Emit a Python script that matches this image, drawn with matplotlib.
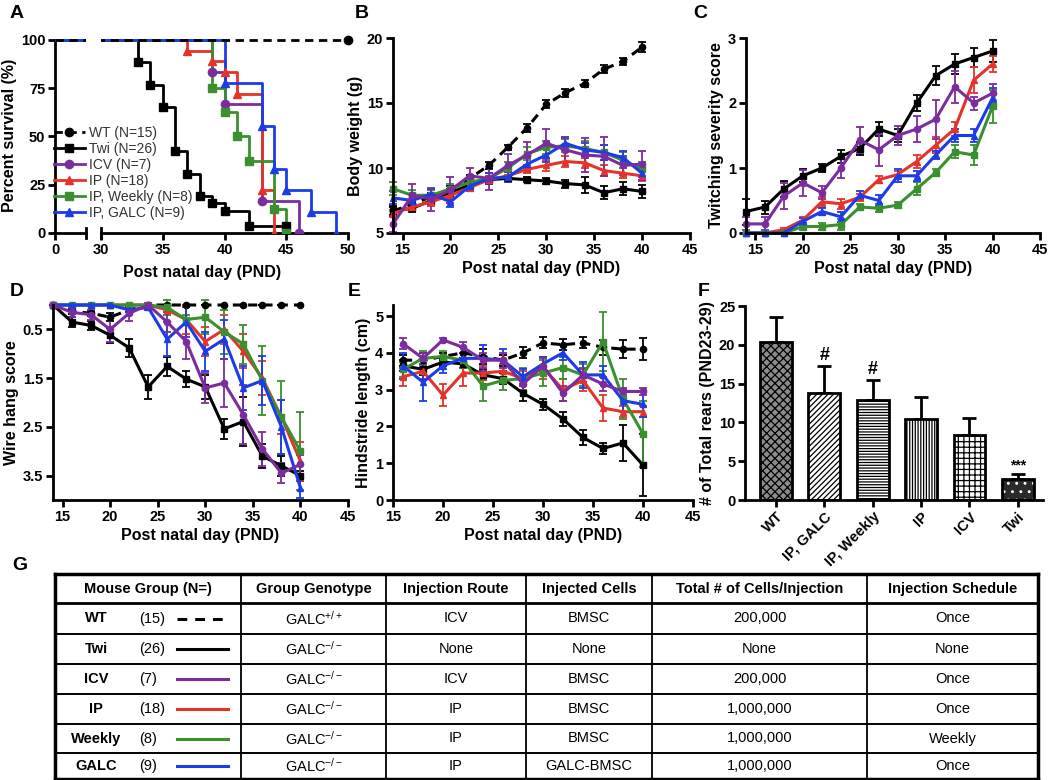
import matplotlib
matplotlib.use("Agg")
import matplotlib.pyplot as plt
from matplotlib.lines import Line2D

plt.rcParams['font.family'] = ['Liberation Sans', 'DejaVu Sans']
plt.rcParams['mathtext.fontset'] = 'custom'
plt.rcParams['mathtext.rm'] = 'Liberation Sans'
plt.rcParams['mathtext.it'] = 'Liberation Sans:italic'
plt.rcParams['mathtext.bf'] = 'Liberation Sans:bold'
plt.rcParams['hatch.linewidth'] = 0.9

# ---------------- data ----------------
groups = ['WT', 'Twi', 'ICV', 'IP', 'Weekly', 'GALC']
legend_labels = ['WT (N=15)', 'Twi (N=26)', 'ICV (N=7)', 'IP (N=18)',
                 'IP, Weekly (N=8)', 'IP, GALC (N=9)']

# A: Kaplan-Meier survival (day, percent)
A_WT_t = [0, 50]
A_WT_s = [100, 100]
A_TWI_t = [0, 33, 34, 35, 36, 37, 38, 39, 40, 42, 45]
A_TWI_s = [100, 88.5, 76.9, 65.4, 42.3, 30.8, 19.2, 15.4, 11.5, 3.8, 3.8]
A_ICV_t = [0, 39, 40, 43, 46]
A_ICV_s = [100, 83.3, 66.7, 16.7, 0]
A_IP_t = [0, 37, 39, 40, 41, 43, 44]
A_IP_s = [100, 94.4, 88.9, 83.3, 72.2, 22.2, 0]
A_WK_t = [0, 39, 40, 41, 42, 44, 45]
A_WK_s = [100, 75, 62.5, 50, 37.5, 12.5, 0]
A_GALC_t = [0, 40, 43, 44, 45, 47, 49]
A_GALC_s = [100, 77.8, 55.6, 33.3, 22.2, 11.1, 0]

# B: body weight (g)
days_b = [14, 16, 18, 20, 22, 24, 26, 28, 30, 32, 34, 36, 38, 40]
B_WT = [6.7, 7.2, 7.8, 8.3, 9.2, 10.2, 11.6, 13.1, 14.9, 15.8, 16.5, 17.6, 18.2, 19.3]
B_WT_err = [0.3, 0.3, 0.3, 0.3, 0.3, 0.3, 0.2, 0.3, 0.3, 0.3, 0.3, 0.3, 0.3, 0.4]
B_TWI = [6.7, 6.9, 7.5, 8.1, 8.7, 9.1, 9.2, 9.1, 9.0, 8.8, 8.7, 8.1, 8.4, 8.2]
B_TWI_err = [0.4, 0.3, 0.3, 0.3, 0.3, 0.2, 0.2, 0.2, 0.2, 0.3, 0.6, 0.5, 0.5, 0.5]
B_ICV = [5.7, 7.9, 7.6, 8.3, 9.4, 9.2, 10.2, 11.0, 11.9, 11.4, 11.0, 10.9, 10.2, 10.3]
B_ICV_err = [0.6, 0.9, 0.9, 1.0, 0.6, 0.9, 0.9, 1.0, 1.1, 0.9, 1.3, 1.5, 0.7, 1.0]
B_IP = [6.5, 7.0, 7.4, 7.9, 8.5, 9.1, 9.4, 9.9, 10.2, 10.5, 10.4, 9.8, 9.6, 9.4]
B_IP_err = [0.3, 0.3, 0.3, 0.3, 0.3, 0.3, 0.3, 0.3, 0.4, 0.4, 0.4, 0.4, 0.4, 0.4]
B_WK = [8.4, 7.9, 7.9, 8.4, 8.9, 9.2, 10.0, 11.1, 11.6, 11.7, 11.5, 11.2, 10.6, 9.9]
B_WK_err = [0.5, 0.4, 0.4, 0.4, 0.4, 0.4, 0.5, 0.5, 0.5, 0.5, 0.6, 0.6, 0.6, 0.6]
B_GALC = [7.7, 7.5, 8.0, 7.4, 8.6, 9.2, 9.3, 10.3, 11.0, 11.9, 11.4, 11.2, 10.8, 9.6]
B_GALC_err = [0.5, 0.4, 0.4, 0.4, 0.4, 0.4, 0.4, 0.5, 0.5, 0.5, 0.5, 0.6, 0.5, 0.5]

# C: twitching severity score
days_c = [14, 16, 18, 20, 22, 24, 26, 28, 30, 32, 34, 36, 38, 40]
C_TWI = [0.33, 0.4, 0.68, 0.88, 1.0, 1.18, 1.3, 1.6, 1.5, 2.0, 2.42, 2.6, 2.7, 2.8]
C_TWI_err = [0.2, 0.1, 0.12, 0.1, 0.06, 0.1, 0.1, 0.1, 0.1, 0.13, 0.15, 0.15, 0.15, 0.17]
C_ICV = [0.14, 0.14, 0.57, 0.77, 0.62, 1.0, 1.43, 1.28, 1.5, 1.6, 1.75, 2.25, 2.0, 2.15]
C_ICV_err = [0.1, 0.1, 0.2, 0.2, 0.1, 0.15, 0.2, 0.25, 0.15, 0.2, 0.3, 0.25, 0.1, 0.15]
C_IP = [0.0, 0.0, 0.05, 0.2, 0.48, 0.45, 0.55, 0.82, 0.9, 1.1, 1.35, 1.6, 2.35, 2.6]
C_IP_err = [0.0, 0.0, 0.03, 0.05, 0.08, 0.08, 0.05, 0.05, 0.05, 0.1, 0.12, 0.1, 0.2, 0.12]
C_WK = [0.0, 0.0, 0.0, 0.1, 0.1, 0.13, 0.4, 0.38, 0.43, 0.68, 0.93, 1.25, 1.2, 1.95]
C_WK_err = [0.0, 0.0, 0.0, 0.05, 0.06, 0.08, 0.05, 0.06, 0.05, 0.1, 0.06, 0.1, 0.15, 0.25]
C_GALC = [0.0, 0.0, 0.0, 0.18, 0.33, 0.25, 0.58, 0.5, 0.88, 0.88, 1.2, 1.5, 1.5, 2.08]
C_GALC_err = [0.0, 0.0, 0.0, 0.05, 0.05, 0.08, 0.06, 0.08, 0.1, 0.08, 0.06, 0.1, 0.1, 0.15]

# D: wire hang score (inverted axis)
days_d = [14, 16, 18, 20, 22, 24, 26, 28, 30, 32, 34, 36, 38, 40]
D_WT = [0, 0.13, 0.17, 0.25, 0.1, 0, 0, 0, 0, 0, 0, 0, 0, 0]
D_WT_err = [0, 0.05, 0.05, 0.08, 0.05, 0, 0, 0, 0, 0, 0, 0, 0, 0]
D_TWI = [0.0, 0.35, 0.42, 0.62, 0.88, 1.68, 1.26, 1.52, 1.68, 2.54, 2.39, 3.1, 3.3, 3.5]
D_TWI_err = [0, 0.1, 0.1, 0.15, 0.18, 0.25, 0.2, 0.17, 0.25, 0.2, 0.5, 0.25, 0.2, 0.1]
D_ICV = [0.0, 0.15, 0.2, 0.5, 0.17, 0.0, 0.35, 0.75, 1.7, 1.6, 2.25, 2.95, 3.45, 3.27]
D_ICV_err = [0, 0.1, 0.1, 0.25, 0.15, 0.05, 0.2, 0.35, 0.3, 0.5, 0.6, 0.35, 0.2, 0.2]
D_IP = [0, 0, 0, 0, 0, 0, 0.1, 0.3, 0.75, 0.5, 0.95, 1.5, 2.3, 3.2]
D_IP_err = [0, 0, 0, 0, 0, 0, 0.1, 0.3, 0.3, 0.3, 0.35, 0.35, 0.35, 0.4]
D_WK = [0, 0, 0, 0, 0, 0, 0.05, 0.3, 0.25, 0.55, 0.8, 1.55, 2.3, 3.0]
D_WK_err = [0, 0, 0, 0, 0, 0, 0.15, 0.1, 0.35, 0.45, 0.4, 0.7, 0.75, 0.8]
D_GALC = [0, 0, 0, 0, 0.1, 0.05, 0.7, 0.35, 0.95, 0.7, 1.7, 1.55, 2.5, 3.75]
D_GALC_err = [0, 0, 0, 0, 0.05, 0.05, 0.35, 0.3, 0.4, 0.4, 0.45, 0.5, 0.55, 0.2]

# E: hindstride length (cm)
days_e = [16, 18, 20, 22, 24, 26, 28, 30, 32, 34, 36, 38, 40]
E_WT = [3.8, 3.8, 3.9, 4.0, 3.9, 3.8, 4.0, 4.27, 4.22, 4.27, 4.15, 4.1, 4.1]
E_WT_err = [0.15, 0.2, 0.1, 0.15, 0.2, 0.15, 0.15, 0.15, 0.15, 0.15, 0.2, 0.25, 0.3]
E_TWI = [3.65, 3.55, 3.75, 3.7, 3.4, 3.3, 2.9, 2.6, 2.2, 1.7, 1.4, 1.55, 0.95]
E_TWI_err = [0.15, 0.15, 0.1, 0.1, 0.15, 0.15, 0.2, 0.15, 0.2, 0.2, 0.15, 0.5, 0.85]
E_ICV = [4.25, 3.85, 4.35, 4.15, 3.8, 3.8, 3.15, 3.65, 2.9, 3.4, 3.15, 2.95, 2.95]
E_ICV_err = [0.15, 0.15, 0.05, 0.15, 0.2, 0.2, 0.2, 0.2, 0.2, 0.2, 0.2, 0.1, 0.1]
E_IP = [3.35, 3.5, 2.85, 3.45, 3.45, 3.5, 3.3, 3.6, 3.0, 3.25, 2.5, 2.4, 2.4]
E_IP_err = [0.25, 0.2, 0.3, 0.35, 0.2, 0.2, 0.2, 0.3, 0.3, 0.3, 0.35, 0.15, 0.15]
E_WK = [3.55, 3.85, 3.9, 3.8, 3.1, 3.25, 3.3, 3.45, 3.6, 3.4, 4.3, 2.75, 1.8]
E_WK_err = [0.2, 0.2, 0.15, 0.2, 0.4, 0.25, 0.3, 0.35, 0.3, 0.3, 0.8, 0.55, 0.9]
E_GALC = [3.65, 3.2, 3.65, 3.85, 3.85, 3.8, 3.35, 3.7, 4.0, 3.4, 3.4, 2.7, 2.6]
E_GALC_err = [0.35, 0.5, 0.2, 0.15, 0.35, 0.3, 0.2, 0.2, 0.2, 0.35, 0.25, 0.3, 0.35]

# F: total rears
F_groups = ['WT', 'IP, GALC', 'IP, Weekly', 'IP', 'ICV', 'Twi']
F_mean = [20.4, 13.8, 12.9, 10.4, 8.4, 2.7]
F_err = [3.2, 3.5, 2.6, 2.9, 2.2, 0.6]
F_sig = ['', '#', '#', '', '', '***']

# G: table
tbl_head = ['Mouse Group (N=)', 'Group Genotype', 'Injection Route',
            'Injected Cells', 'Total # of Cells/Injection', 'Injection Schedule']
tbl_group = ['WT', 'Twi', 'ICV', 'IP', 'Weekly', 'GALC']
tbl_n = ['(15)', '(26)', '(7)', '(18)', '(8)', '(9)']
tbl_geno = [r'GALC$^{+/+}$', r'GALC$^{-/-}$', r'GALC$^{-/-}$', r'GALC$^{-/-}$',
            r'GALC$^{-/-}$', r'GALC$^{-/-}$']
tbl_route = ['ICV', 'None', 'ICV', 'IP', 'IP', 'IP']
tbl_cells = ['BMSC', 'None', 'BMSC', 'BMSC', 'BMSC', 'GALC-BMSC']
tbl_total = ['200,000', 'None', '200,000', '1,000,000', '1,000,000', '1,000,000']
tbl_sched = ['Once', 'None', 'Once', 'Once', 'Weekly', 'Once']

# ---------------- styling ----------------
COL = {'WT': 'black', 'Twi': 'black', 'ICV': '#7B2C9E', 'IP': '#E5332A',
       'Weekly': '#3A8F2E', 'GALC': '#1C3CE8'}
MRK = {'WT': 'o', 'Twi': 's', 'ICV': 'o', 'IP': '^', 'Weekly': 's', 'GALC': '^'}
DASH = (0, (3, 2))

W, H = 1050, 780
fig = plt.figure(figsize=(W / 100, H / 100), dpi=100)


def box(l, t, r, b):
    return [l / W, 1 - b / H, (r - l) / W, (b - t) / H]


def style(ax, xlabel=None, ylabel=None):
    for s in ['top', 'right']:
        ax.spines[s].set_visible(False)
    for s in ['left', 'bottom']:
        ax.spines[s].set_linewidth(2)
    ax.tick_params(width=2, length=5, labelsize=10.5, direction='out', pad=2)
    plt.setp(ax.get_xticklabels() + ax.get_yticklabels(), fontweight='bold')
    if xlabel:
        ax.set_xlabel(xlabel, fontsize=11.5, fontweight='bold', labelpad=3)
    if ylabel:
        ax.set_ylabel(ylabel, fontsize=11.5, fontweight='bold', labelpad=3)


def series(ax, x, y, e, key, ms=4.5):
    ls = DASH if key == 'WT' else '-'
    cont = ax.errorbar(x, y, yerr=e, color=COL[key], marker=MRK[key], ms=ms,
                       lw=2.2, ls=ls, capsize=3, elinewidth=1.3, capthick=1.3)
    for art in cont.get_children():
        art.set_clip_on(False)


def letter(x, y, s):
    fig.text(x / W, 1 - y / H, s, fontsize=14, fontweight='bold', va='center', ha='left')


# ---------------- A ----------------
axA1 = fig.add_axes(box(55, 38, 86, 233))
axA2 = fig.add_axes(box(101, 38, 348, 233))
A_sets = [('Twi', A_TWI_t, A_TWI_s), ('ICV', A_ICV_t, A_ICV_s),
          ('IP', A_IP_t, A_IP_s), ('Weekly', A_WK_t, A_WK_s),
          ('GALC', A_GALC_t, A_GALC_s), ('WT', A_WT_t, A_WT_s)]
for ax in (axA1, axA2):
    for key, t, s in A_sets:
        ls = DASH if key == 'WT' else '-'
        ax.step(t, s, where='post', color=COL[key], lw=2, ls=ls, zorder=3)
        if key == 'WT':
            if ax is axA2:
                ax.plot(t[-1:], s[-1:], marker='o', color='black', ms=6, ls='none',
                        clip_on=False, zorder=4)
        else:
            ax.plot(t[1:], s[1:], marker=MRK[key], color=COL[key], ms=6, ls='none',
                    zorder=4)
    ax.set_ylim(0, 101)
axA1.set_xlim(0, 4.3)
axA1.set_xticks([0])
axA1.set_yticks([0, 25, 50, 75, 100])
axA1.spines['left'].set_bounds(0, 100)
style(axA1, ylabel='Percent survival (%)')
axA2.set_xlim(30, 50)
axA2.set_xticks([30, 35, 40, 45, 50])
axA2.set_yticks([])
style(axA2)
axA2.spines['left'].set_visible(False)
axA1.plot([1, 1], [-0.028, 0.028], transform=axA1.transAxes, color='black', lw=2, clip_on=False)
axA2.plot([0, 0], [-0.028, 0.028], transform=axA2.transAxes, color='black', lw=2, clip_on=False)
fig.text(202 / W, 1 - 272 / H, 'Post natal day (PND)', fontsize=11.5, fontweight='bold',
         ha='center', va='center')
handles = [Line2D([], [], color=COL[k], marker=MRK[k], ms=6, lw=2,
                  ls=DASH if k == 'WT' else '-') for k in groups]
fig.legend(handles, legend_labels, loc='upper left', bbox_to_anchor=(54 / W, 1 - 126 / H),
           frameon=False, fontsize=10, borderpad=0, borderaxespad=0, labelspacing=0.14,
           handlelength=2.2, handletextpad=0.3, labelcolor='#333333')
letter(10, 14, 'A')

# ---------------- B ----------------
axB = fig.add_axes(box(393, 38, 690, 233))
B_sets = [('WT', B_WT, B_WT_err), ('Twi', B_TWI, B_TWI_err), ('IP', B_IP, B_IP_err),
          ('Weekly', B_WK, B_WK_err), ('GALC', B_GALC, B_GALC_err), ('ICV', B_ICV, B_ICV_err)]
for key, y, e in B_sets:
    series(axB, days_b, y, e, key)
axB.set_xlim(14, 45)
axB.set_ylim(5, 20)
axB.set_xticks([15, 20, 25, 30, 35, 40, 45])
axB.set_yticks([5, 10, 15, 20])
style(axB, 'Post natal day (PND)', 'Body weight (g)')
letter(355, 14, 'B')

# ---------------- C ----------------
axC = fig.add_axes(box(746, 38, 1040, 233))
C_sets = [('Twi', C_TWI, C_TWI_err), ('IP', C_IP, C_IP_err), ('Weekly', C_WK, C_WK_err),
          ('GALC', C_GALC, C_GALC_err), ('ICV', C_ICV, C_ICV_err)]
for key, y, e in C_sets:
    series(axC, days_c, y, e, key)
axC.set_xlim(14, 45)
axC.set_ylim(0, 3)
axC.set_xticks([15, 20, 25, 30, 35, 40, 45])
axC.set_yticks([0, 1, 2, 3])
style(axC, 'Post natal day (PND)', 'Twitching severity score')
letter(693, 14, 'C')

# ---------------- D ----------------
axD = fig.add_axes(box(53, 305, 348, 500))
D_sets = [('WT', D_WT, D_WT_err), ('Twi', D_TWI, D_TWI_err), ('IP', D_IP, D_IP_err),
          ('Weekly', D_WK, D_WK_err), ('GALC', D_GALC, D_GALC_err), ('ICV', D_ICV, D_ICV_err)]
for key, y, e in D_sets:
    series(axD, days_d, y, e, key)
axD.set_xlim(14, 45)
axD.set_ylim(4, 0)
axD.set_xticks([15, 20, 25, 30, 35, 40, 45])
axD.set_yticks([0.5, 1.5, 2.5, 3.5])
style(axD, 'Post natal day (PND)', 'Wire hang score')
letter(10, 292, 'D')

# ---------------- E ----------------
axE = fig.add_axes(box(393, 305, 693, 500))
E_sets = [('WT', E_WT, E_WT_err), ('Twi', E_TWI, E_TWI_err), ('IP', E_IP, E_IP_err),
          ('Weekly', E_WK, E_WK_err), ('GALC', E_GALC, E_GALC_err), ('ICV', E_ICV, E_ICV_err)]
for key, y, e in E_sets:
    series(axE, days_e, y, e, key)
axE.set_xlim(15, 45)
axE.set_ylim(0, 5.3)
axE.set_xticks([15, 20, 25, 30, 35, 40, 45])
axE.set_yticks([0, 1, 2, 3, 4, 5])
style(axE, 'Post natal day (PND)', 'Hindstride length (cm)')
letter(348, 292, 'E')

# ---------------- F ----------------
axF = fig.add_axes(box(745, 306, 1043, 500))
xs = list(range(len(F_groups)))
F_face = ['#8c8c8c', 'white', 'white', 'white', 'white', '#2a2a2a']
F_hatch = ['xxxx', '//////', '------', '||||||', '+++', '..']
F_hcol = ['black', 'black', 'black', 'black', 'black', 'white']
for i in xs:
    axF.bar(xs[i], F_mean[i], width=0.66, color=F_face[i], hatch=F_hatch[i],
            edgecolor=F_hcol[i], lw=0, zorder=2)
axF.bar(xs, F_mean, width=0.66, fill=False, edgecolor='black', lw=2, zorder=3)
axF.errorbar(xs, F_mean, yerr=[[0] * len(xs), F_err], fmt='none', ecolor='black',
             elinewidth=2, capsize=5, capthick=2, zorder=1)
for i in xs:
    if F_sig[i]:
        axF.text(xs[i], F_mean[i] + F_err[i] + 0.2, F_sig[i], ha='center', va='bottom',
                 fontsize=13 if F_sig[i] == '#' else 10, fontweight='bold')
axF.set_xlim(-0.64, 5.52)
axF.set_ylim(0, 25)
axF.set_yticks([0, 5, 10, 15, 20, 25])
axF.set_xticks(xs, F_groups, rotation=45, ha='right', rotation_mode='anchor')
style(axF, None, '# of Total rears (PND23-29)')
letter(698, 292, 'F')

# ---------------- G table ----------------
tax = fig.add_axes([0, 0, 1, 1], zorder=-1)
tax.set_xlim(0, W)
tax.set_ylim(H, 0)
tax.axis('off')
col_x = [55, 241, 386, 526, 652, 867, 1038]
row_y = [574, 603, 634, 664, 694, 724, 753, 778.5]
for i, y in enumerate(row_y):
    lw = 2.5 if i in (0, len(row_y) - 1) else (2 if i == 1 else 1.4)
    tax.plot([col_x[0], col_x[-1]], [y, y], color='black', lw=lw, solid_capstyle='projecting')
for j, x in enumerate(col_x):
    lw = 2.5 if j in (0, len(col_x) - 1) else 1.3
    tax.plot([x, x], [row_y[0], row_y[-1]], color='black', lw=lw, solid_capstyle='projecting')
ymid_h = (row_y[0] + row_y[1]) / 2
for j, h in enumerate(tbl_head):
    tax.text((col_x[j] + col_x[j + 1]) / 2, ymid_h, h, ha='center', va='center',
             fontsize=10.5, fontweight='bold')
cols = [tbl_geno, tbl_route, tbl_cells, tbl_total, tbl_sched]
for r in range(len(tbl_group)):
    ym = (row_y[r + 1] + row_y[r + 2]) / 2
    tax.text(96, ym, tbl_group[r], ha='center', va='center', fontsize=10.5, fontweight='bold')
    tax.text(139, ym, tbl_n[r], ha='left', va='center', fontsize=10.5)
    key = groups[r]
    tax.plot([177, 228], [ym, ym], color=COL[key], lw=2.2,
             ls=(0, (3.2, 2.6)) if key == 'WT' else '-')
    for c, vals in enumerate(cols):
        tax.text((col_x[c + 1] + col_x[c + 2]) / 2, ym, vals[r], ha='center', va='center',
                 fontsize=10.5)
letter(12, 565, 'G')

fig.savefig('out.png', dpi=100)
